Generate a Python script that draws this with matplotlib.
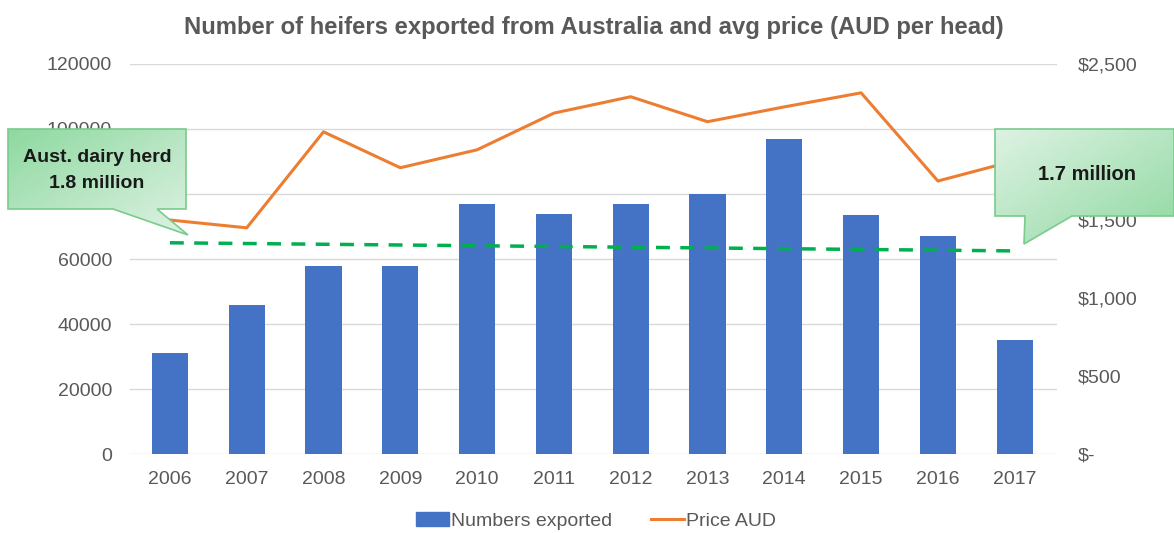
import numpy as np
import matplotlib.pyplot as plt
from matplotlib.patches import Polygon
from matplotlib.lines import Line2D
from matplotlib.patches import Patch

plt.rcParams['font.family'] = ['Liberation Sans', 'DejaVu Sans']

# data
years = ['2006', '2007', '2008', '2009', '2010', '2011',
         '2012', '2013', '2014', '2015', '2016', '2017']
numbers_exported = [31000, 46000, 58000, 58000, 77000, 74000,
                    77000, 80000, 97000, 73500, 67000, 35000]
price_aud = [1500, 1450, 2065, 1835, 1950, 2185,
             2290, 2130, 2225, 2315, 1750, 1880]
# dairy herd trend line (drawn on the left axis scale)
herd_idx = [0, 11]
herd_line = [65000, 62500]
left_ticks = [0, 20000, 40000, 60000, 80000, 100000, 120000]
right_ticks = [0, 500, 1000, 1500, 2000, 2500]
right_labels = ['$-', '$500', '$1,000', '$1,500', '$2,000', '$2,500']

grey = '#595959'
blue = '#4472C4'
orange = '#ED7D31'
green = '#00B050'

fig = plt.figure(figsize=(11.74, 5.33), dpi=100)
ax = fig.add_axes([0.1107, 0.148, 0.7896, 0.732])
ax2 = ax.twinx()

x = np.arange(len(years))
ax.bar(x, numbers_exported, width=0.47, color=blue, zorder=2)
ax.plot(herd_idx, herd_line, color=green, linestyle=(0, (4, 3)), linewidth=2.5, zorder=3)
ax2.plot(x, price_aud, color=orange, linewidth=2.2, zorder=3)

ax.set_xlim(-0.52, 11.55)
ax.set_ylim(0, 120000)
ax2.set_ylim(0, 2500)
ax.set_yticks(left_ticks)
ax.set_yticklabels([str(t) for t in left_ticks])
ax2.set_yticks(right_ticks)
ax2.set_yticklabels(right_labels)
ax.set_xticks(x)
ax.set_xticklabels(years)

ax.grid(axis='y', color='#D9D9D9', linewidth=1, zorder=0)
ax.set_axisbelow(True)
for a in (ax, ax2):
    for s in a.spines.values():
        s.set_visible(False)
    a.tick_params(length=0, labelsize=14, colors=grey)
ax.tick_params(axis='y', pad=13)
ax.tick_params(axis='x', pad=12)
ax2.tick_params(axis='y', pad=15)

fig.text(0.506, 0.948, 'Number of heifers exported from Australia and avg price (AUD per head)',
         ha='center', va='center', fontsize=17.2, fontweight='bold', color=grey)

handles = [Patch(color=blue, label='Numbers exported'),
           Line2D([0], [0], color=orange, linewidth=2.2, label='Price AUD')]
fig.legend(handles=handles, loc='center', bbox_to_anchor=(0.508, 0.022), ncol=2,
           frameon=False, fontsize=14, labelcolor=grey, handlelength=1.7,
           handletextpad=0.1, columnspacing=2.0)

# callouts drawn in pixel space on an overlay
ov = fig.add_axes([0, 0, 1, 1], zorder=10)
ov.set_xlim(0, 1174)
ov.set_ylim(533, 0)
ov.axis('off')
ov.patch.set_alpha(0)


def callout(pts, reverse):
    poly = Polygon(pts, closed=True, facecolor='none', edgecolor='#7ACB8C', linewidth=1.2, zorder=3)
    ov.add_patch(poly)
    xs = [p[0] for p in pts]
    ys = [p[1] for p in pts]
    gx, gy = np.meshgrid(np.linspace(0, 1, 60), np.linspace(0, 1, 60))
    t = (gx + gy) / 2
    if reverse:
        t = 1 - t
    dark = np.array([0.56, 0.85, 0.63])
    light = np.array([0.87, 0.95, 0.89])
    img = dark[None, None, :] * (1 - t[..., None]) + light[None, None, :] * t[..., None]
    im = ov.imshow(img, extent=(min(xs), max(xs), max(ys), min(ys)), aspect='auto',
                   interpolation='bilinear', zorder=2)
    im.set_clip_path(poly)


callout([(8, 129), (186, 129), (186, 209), (157, 209), (188, 235), (113, 209), (8, 209)], False)
callout([(995, 129), (1174, 129), (1174, 216), (1072, 216), (1024, 244), (1025, 216), (995, 216)], True)
ov.set_xlim(0, 1174)
ov.set_ylim(533, 0)
ov.text(97, 157, 'Aust. dairy herd', ha='center', va='center', fontsize=14,
        fontweight='bold', color='#1a1a1a', zorder=4)
ov.text(97, 184, '1.8 million', ha='center', va='center', fontsize=14,
        fontweight='bold', color='#1a1a1a', zorder=4)
ov.text(1087, 174, '1.7 million', ha='center', va='center', fontsize=14.5,
        fontweight='bold', color='#1a1a1a', zorder=4)

fig.savefig('out.png', dpi=100)
